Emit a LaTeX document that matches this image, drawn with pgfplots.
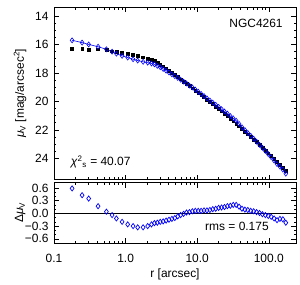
\documentclass[border=0pt]{standalone}
\usepackage{pgfplots}
\pgfplotsset{compat=1.18}
\usepackage{pgfplotstable}
\usepackage{fontspec}
\setmainfont{Liberation Sans}
\definecolor{idlblue}{RGB}{0,0,255}

\pgfplotstableread{
r data model res
0.1790 16.30 15.71 0.59
0.2469 16.30 15.87 0.43
0.3051 16.35 16.00 0.35
0.4129 16.34 16.16 0.17
0.5393 16.38 16.34 0.04
0.6479 16.47 16.51 -0.04
0.7439 16.53 16.65 -0.12
0.8935 16.60 16.80 -0.20
1.070 16.66 16.92 -0.26
1.273 16.74 17.04 -0.30
1.476 16.80 17.13 -0.33
1.756 16.89 17.22 -0.33
2.035 16.98 17.28 -0.30
2.299 17.08 17.34 -0.26
2.526 17.17 17.40 -0.23
2.775 17.28 17.50 -0.22
3.048 17.40 17.60 -0.20
3.348 17.53 17.72 -0.19
3.678 17.67 17.84 -0.17
4.039 17.82 17.97 -0.15
4.436 17.97 18.10 -0.13
4.872 18.12 18.23 -0.11
5.353 18.28 18.35 -0.07
5.880 18.44 18.48 -0.04
6.460 18.60 18.61 -0.01
7.095 18.76 18.74 0.02
7.792 18.92 18.89 0.03
8.560 19.07 19.02 0.05
9.404 19.23 19.17 0.06
10.33 19.38 19.32 0.06
11.35 19.54 19.48 0.06
12.46 19.70 19.63 0.07
13.69 19.86 19.79 0.07
15.04 20.02 19.94 0.08
16.52 20.19 20.09 0.10
18.15 20.35 20.24 0.11
19.93 20.52 20.39 0.13
21.89 20.69 20.55 0.14
24.05 20.86 20.71 0.15
26.42 21.03 20.86 0.17
29.01 21.21 21.03 0.18
31.87 21.39 21.19 0.20
35.01 21.56 21.36 0.20
38.46 21.74 21.58 0.16
42.24 21.93 21.82 0.11
46.40 22.11 22.02 0.09
50.96 22.30 22.22 0.08
55.99 22.48 22.42 0.06
61.50 22.67 22.62 0.05
67.55 22.86 22.83 0.03
74.21 23.05 23.05 0.01
81.52 23.25 23.26 -0.02
89.54 23.44 23.48 -0.04
98.36 23.64 23.70 -0.06
108.0 23.84 23.92 -0.08
118.7 24.04 24.16 -0.12
130.4 24.24 24.40 -0.16
143.2 24.45 24.58 -0.13
157.3 24.65 24.79 -0.14
172.8 24.86 25.08 -0.22
}\prof

\begin{document}
\begin{tikzpicture}[font=\fontsize{12}{14}\selectfont]
\begin{axis}[at={(0,3bp)}, anchor=south west,
  xmode=log, xmin=0.1, xmax=240, width=242bp, height=172.5bp, scale only axis,
  tick align=inside, tick pos=both,
  major tick length=5bp, minor tick length=2.5bp,
  axis line style={line width=0.6pt},
  tick style={black, line width=0.5pt},
  xtick={0.1,1,10,100},
  xticklabels={},
  yticklabel style={xshift=-2bp},
  y dir=reverse, ymin=13.37, ymax=25.49,
  ytick={14,16,18,20,22,24}, minor y tick num=3,
  yticklabels={14,16,18,20,22,24},
  ylabel={\textit{μ}\textsubscript{V} [mag/arcsec\textsuperscript{2}]},
  ylabel style={at={(axis description cs:-0.14,0.5)}, anchor=center},
]
\addplot[only marks, mark=square*, mark size=1.4bp, black] table[x=r, y=data] {\prof};
\addplot[idlblue, line width=0.6pt, mark=diamond, mark size=2.5bp, mark options={line width=0.6pt}] table[x=r, y=model] {\prof};
\node at (axis description cs:0.835,0.907) {NGC4261};
\node at (axis description cs:0.193,0.103) {\textit{χ}\textsuperscript{2}\textsubscript{s} = 40.07};
\end{axis}
\begin{axis}[at={(0,0)}, anchor=north west,
  xmode=log, xmin=0.1, xmax=240, width=242bp, height=60.5bp, scale only axis,
  tick align=inside, tick pos=both,
  major tick length=5bp, minor tick length=2.5bp,
  axis line style={line width=0.6pt},
  tick style={black, line width=0.5pt},
  xtick={0.1,1,10,100},
  xticklabels={0.1,1.0,10.0,100.0},
  xticklabel style={yshift=-7.5bp},
  yticklabel style={xshift=-2bp},
  ymin=-0.70, ymax=0.73,
  ytick={-0.6,-0.3,0,0.3,0.6}, minor y tick num=2,
  yticklabels={−0.6,−0.3,0.0,0.3,0.6},
  xlabel={r [arcsec]},
  xlabel style={at={(axis description cs:0.5,-0.52)}, anchor=center},
  ylabel={Δ\textit{μ}\textsubscript{V}},
  ylabel style={at={(axis description cs:-0.14,0.5)}, anchor=center},
]
\addplot[black, line width=0.6pt] coordinates {(0.1,0) (240,0)};
\addplot[only marks, idlblue, mark=diamond, mark size=2.6bp, mark options={line width=0.7pt}] table[x=r, y=res] {\prof};
\node at (axis description cs:0.756,0.281) {rms = 0.175};
\end{axis}
\pgfresetboundingbox
\path[use as bounding box] (-54bp,-102.5bp) rectangle (246bp,182.5bp);
\end{tikzpicture}
\end{document}
